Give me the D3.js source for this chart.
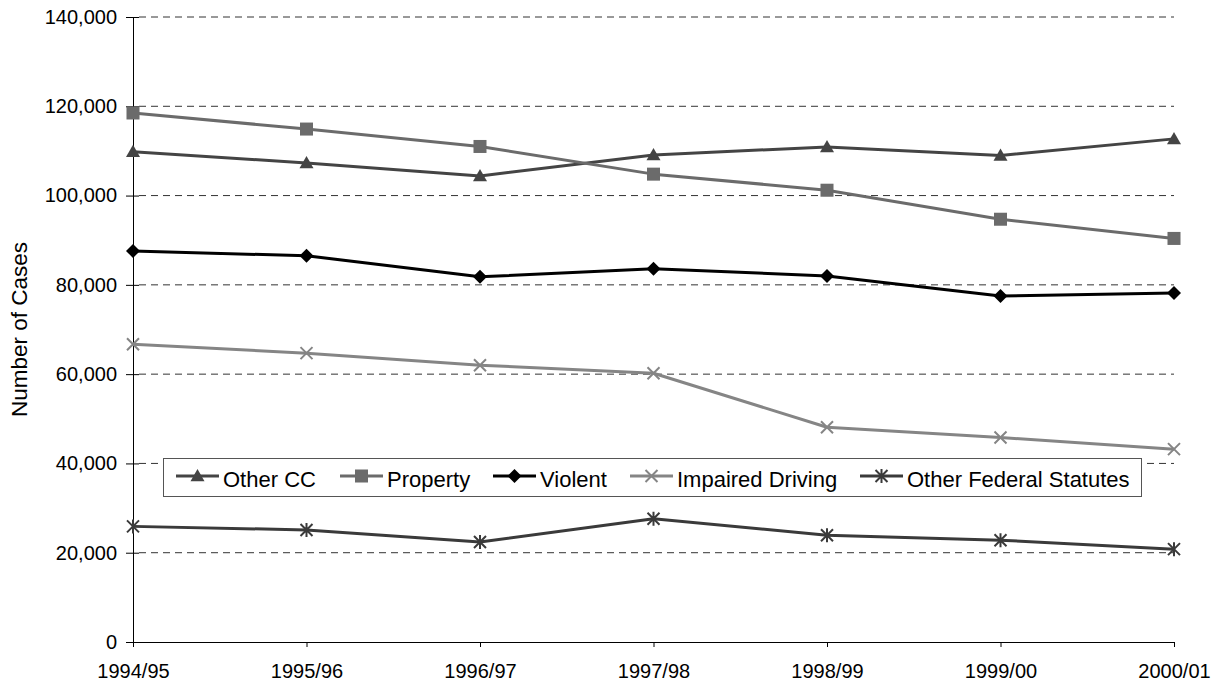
<!DOCTYPE html>
<html>
<head>
<meta charset="utf-8">
<script src="https://cdn.jsdelivr.net/npm/d3@7"></script>
<style>
  html, body { margin: 0; padding: 0; background: #fff; }
  svg { display: block; font-family: Arial, "Liberation Sans", sans-serif; }
</style>
</head>
<body>
<svg id="chart" width="1214" height="681"></svg>
<script>
// Fiscal years on the x axis
const years = ["1994/95", "1995/96", "1996/97", "1997/98", "1998/99", "1999/00", "2000/01"];

// Number of cases per offence group
const otherCC        = [109800, 107300, 104400, 109100, 110900, 109000, 112700];
const property       = [118500, 114900, 111000, 104800, 101200, 94700, 90400];
const violent        = [87600, 86500, 81800, 83600, 82000, 77500, 78200];
const impaired       = [66700, 64700, 62000, 60200, 48100, 45800, 43200];
const otherFederal   = [25900, 25100, 22400, 27600, 23900, 22800, 20800];

const yTicks = [0, 20000, 40000, 60000, 80000, 100000, 120000, 140000];

const series = [
  { name: "Other CC", values: otherCC, color: "#444444", marker: "triangle" },
  { name: "Property", values: property, color: "#6b6b6b", marker: "square" },
  { name: "Violent", values: violent, color: "#000000", marker: "diamond" },
  { name: "Impaired Driving", values: impaired, color: "#858585", marker: "cross" },
  { name: "Other Federal Statutes", values: otherFederal, color: "#3a3a3a", marker: "asterisk" }
];

const FONT = "Arial, 'Liberation Sans', sans-serif";
const svg = d3.select("#chart");
const margin = { left: 133, right: 40, top: 17, bottom: 39 };
const W = 1214, H = 681;

const x = d3.scalePoint().domain(years).range([margin.left, W - margin.right]);
const y = d3.scaleLinear().domain([0, 140000]).range([H - margin.bottom, margin.top]);

// Horizontal dashed gridlines
svg.append("g")
  .selectAll("line")
  .data(yTicks.filter(d => d > 0))
  .join("line")
  .attr("x1", margin.left + 6).attr("x2", W - margin.right)
  .attr("y1", d => y(d)).attr("y2", d => y(d))
  .attr("stroke", "#333")
  .attr("stroke-width", 1)
  .attr("stroke-dasharray", "7,5");

// Y axis (ticks cross the axis line)
const yAxis = svg.append("g")
  .attr("transform", `translate(${margin.left},0)`)
  .call(d3.axisLeft(y).tickValues(yTicks).tickFormat(d3.format(",")).tickSizeOuter(0).tickSize(7).tickPadding(9));
yAxis.select(".domain").attr("stroke", "#000");
yAxis.selectAll(".tick line").attr("x1", 6).attr("stroke", "#000");
yAxis.selectAll("text").attr("font-size", 20).attr("fill", "#000").attr("font-family", FONT);

// X axis
const xAxis = svg.append("g")
  .attr("transform", `translate(0,${y(0)})`)
  .call(d3.axisBottom(x).tickSizeOuter(0).tickSize(5).tickPadding(17));
xAxis.select(".domain").attr("stroke", "#000");
xAxis.selectAll(".tick line").attr("stroke", "#000");
xAxis.selectAll("text").attr("font-size", 20).attr("fill", "#000").attr("font-family", FONT);

// Y axis title
svg.append("text")
  .attr("transform", `translate(27,${(y(0) + y(140000)) / 2}) rotate(-90)`)
  .attr("text-anchor", "middle")
  .attr("font-size", 22.5)
  .attr("fill", "#000")
  .text("Number of Cases");

// Marker drawing
function drawMarker(g, type, color, cx, cy) {
  if (type === "triangle") {
    const s = 7;
    g.append("path")
      .attr("d", `M${cx},${cy - s} L${cx + s},${cy + s * 0.75} L${cx - s},${cy + s * 0.75}Z`)
      .attr("fill", color);
  } else if (type === "square") {
    g.append("rect").attr("x", cx - 6.5).attr("y", cy - 6.5).attr("width", 13).attr("height", 13).attr("fill", color);
  } else if (type === "diamond") {
    const s = 7;
    g.append("path")
      .attr("d", `M${cx},${cy - s} L${cx + s},${cy} L${cx},${cy + s} L${cx - s},${cy}Z`)
      .attr("fill", color);
  } else if (type === "cross") {
    const s = 6;
    g.append("path")
      .attr("d", `M${cx - s},${cy - s} L${cx + s},${cy + s} M${cx - s},${cy + s} L${cx + s},${cy - s}`)
      .attr("stroke", color).attr("stroke-width", 2).attr("fill", "none");
  } else if (type === "asterisk") {
    const s = 6;
    g.append("path")
      .attr("d", `M${cx - s},${cy - s} L${cx + s},${cy + s} M${cx - s},${cy + s} L${cx + s},${cy - s} M${cx},${cy - s - 1} L${cx},${cy + s + 1}`)
      .attr("stroke", color).attr("stroke-width", 2).attr("fill", "none");
  }
}

// Lines and markers
const line = d3.line().x((d, i) => x(years[i])).y(d => y(d));
const plot = svg.append("g");
series.forEach(s => {
  plot.append("path")
    .attr("d", line(s.values))
    .attr("fill", "none")
    .attr("stroke", s.color)
    .attr("stroke-width", 3)
    .attr("stroke-linejoin", "round");
  const mg = plot.append("g");
  s.values.forEach((v, i) => drawMarker(mg, s.marker, s.color, x(years[i]), y(v)));
});

// Legend
const legend = svg.append("g");
legend.append("rect")
  .attr("x", 163.5).attr("y", 458.5)
  .attr("width", 978).attr("height", 38)
  .attr("fill", "#fff")
  .attr("stroke", "#555")
  .attr("stroke-width", 1);

const legendX = [176, 340, 493, 630, 860];
series.forEach((s, i) => {
  const lx = legendX[i], ly = 476;
  legend.append("line")
    .attr("x1", lx).attr("x2", lx + 43)
    .attr("y1", ly).attr("y2", ly)
    .attr("stroke", s.color).attr("stroke-width", 3);
  drawMarker(legend, s.marker, s.color, lx + 21.5, ly);
  legend.append("text")
    .attr("x", lx + 47).attr("y", 487)
    .attr("font-size", 22)
    .attr("fill", "#000")
    .text(s.name);
});
</script>
</body>
</html>
